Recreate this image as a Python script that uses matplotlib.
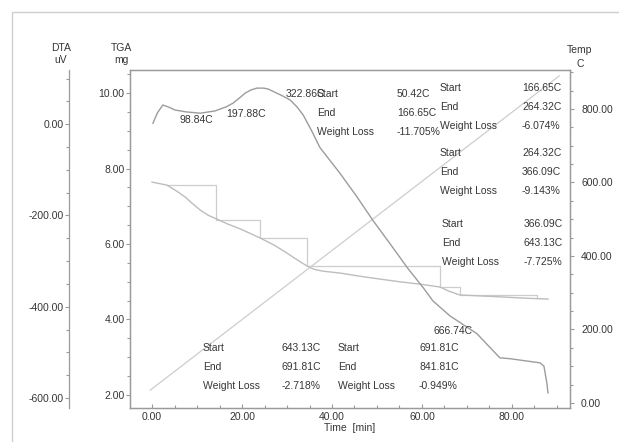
import matplotlib
matplotlib.use('Agg')
from matplotlib import pyplot as plt
from matplotlib.patches import Rectangle
from matplotlib.ticker import MultipleLocator, FormatStrFormatter

plt.rcParams['font.family'] = ['Liberation Sans', 'DejaVu Sans']

# DTA signal [uV] vs time [min]
dta_time = [0.2, 1.2, 2.4, 3.8, 5.1, 7.5, 10.7, 14.0, 16.5, 18.0, 19.5, 20.7, 22.0, 23.3,
            24.8, 25.8, 27.3, 29.0, 30.7, 32.2, 33.6, 35.5, 37.3, 41.8, 45.6, 49.1, 52.9,
            56.7, 60.4, 62.4, 66.2, 72.2, 77.3, 79.6, 86.2, 87.1, 87.8, 88.0]
dta_uv = [2, 25, 42, 37, 31, 27, 24, 29, 38, 46, 58, 68, 75, 79,
          79, 77, 70, 62, 53, 38, 20, -15, -51, -108, -160, -211, -262,
          -314, -360, -387, -420, -459, -512, -514, -523, -530, -570, -589]

# TGA mass [mg] vs time [min]
tga_time = [0.0, 3.3, 5.5, 7.3, 9.0, 10.7, 12.5, 14.4, 17.0, 19.6, 22.0, 24.0, 27.0, 29.6,
            32.0, 34.4, 36.0, 38.0, 41.8, 46.0, 50.7, 55.0, 60.0, 64.0, 66.0, 68.4, 72.0,
            77.3, 82.0, 88.0]
tga_mg = [7.64, 7.56, 7.40, 7.25, 7.07, 6.90, 6.76, 6.66, 6.52, 6.40, 6.27, 6.16, 5.98, 5.79,
          5.60, 5.42, 5.33, 5.28, 5.23, 5.15, 5.07, 5.00, 4.93, 4.86, 4.75, 4.65, 4.63,
          4.60, 4.57, 4.54]

# furnace temperature [C] vs time [min]
temp_time = [-0.4, 20.0, 40.0, 60.0, 80.0, 90.5]
temp_c = [35, 227, 415, 603, 791, 890]

# weight loss steps (time at each boundary, mass at each boundary)
step_time = [3.3, 14.2, 24.0, 34.4, 64.0, 68.4, 85.6]
step_mg = [7.56, 6.64, 6.16, 5.42, 4.86, 4.65, 4.57]

# peak labels
peak_labels = ['98.84C', '197.88C', '322.86C', '666.74C']
peak_pos = [(180, 120), (226, 114), (286, 94), (434, 331)]

# step result blocks: (label x, value x, top y, values)
row_names = ['Start', 'End', 'Weight Loss']
block_vals = [['50.42C', '166.65C', '-11.705%'],
              ['166.65C', '264.32C', '-6.074%'],
              ['264.32C', '366.09C', '-9.143%'],
              ['366.09C', '643.13C', '-7.725%'],
              ['643.13C', '691.81C', '-2.718%'],
              ['691.81C', '841.81C', '-0.949%']]
block_pos = [(317, 397, 94), (440, 522, 88), (440, 522, 153), (442, 524, 224),
             (203, 282, 348), (338, 419, 348)]

W, H = 619, 442
txt = '#363636'
axc = '#9a9a9a'
fs = 7.5

fig = plt.figure(figsize=(W / 100, H / 100), dpi=100)
fig.add_artist(Rectangle((12 / W, -0.05), 1.1, 1.05 - 12 / H, transform=fig.transFigure,
                         fill=False, ec='#cfcfcf', lw=1.0))

ax = fig.add_axes([130 / W, (H - 408) / H, 440 / W, 338 / H])
ax_t = ax.twinx()
ax_d = ax.twinx()

ax.set_xlim(-4.9, 92.9)
ax.set_ylim(1.655, 10.61)
ax_t.set_ylim(-13.6, 906)
ax_d.set_ylim(-622, 118.7)

# curves
ax_t.plot(temp_time, temp_c, color='#cdcdcd', lw=0.9)
sx, sy = [step_time[0]], [step_mg[0]]
for i in range(1, len(step_time)):
    sx += [step_time[i], step_time[i]]
    sy += [step_mg[i - 1], step_mg[i]]
ax.plot(sx, sy, color='#cdcdcd', lw=0.9)
ax.plot(tga_time, tga_mg, color='#bdbdbd', lw=1.0)
ax_d.plot(dta_time, dta_uv, color='#9c9c9c', lw=1.0)

# axes styling
for a in (ax, ax_t, ax_d):
    for s in a.spines.values():
        s.set_color(axc)
        s.set_linewidth(0.9)
    a.tick_params(which='both', colors=axc, labelcolor=txt, labelsize=fs, width=0.8)
    a.tick_params(which='major', length=3, pad=1)
    a.tick_params(which='minor', length=2)

ax.xaxis.set_major_locator(MultipleLocator(20))
ax.xaxis.set_minor_locator(MultipleLocator(5))
ax.xaxis.set_major_formatter(FormatStrFormatter('%.2f'))
ax.tick_params(axis='x', which='both', direction='in', pad=3)
ax.yaxis.set_major_locator(MultipleLocator(2))
ax.yaxis.set_minor_locator(MultipleLocator(0.5))
ax.yaxis.set_major_formatter(FormatStrFormatter('%.2f'))

ax_t.yaxis.set_major_locator(MultipleLocator(200))
ax_t.yaxis.set_minor_locator(MultipleLocator(50))
ax_t.yaxis.set_major_formatter(FormatStrFormatter('%.2f'))
ax_t.tick_params(axis='y', which='major', pad=5)

ax_d.spines['right'].set_visible(False)
ax_d.spines['top'].set_visible(False)
ax_d.spines['bottom'].set_visible(False)
ax_d.spines['left'].set_visible(True)
ax_d.spines['left'].set_position(('outward', 61 * 72 / 100))
ax_d.yaxis.set_label_position('left')
ax_d.yaxis.set_ticks_position('left')
ax_d.yaxis.set_major_locator(MultipleLocator(200))
ax_d.yaxis.set_minor_locator(MultipleLocator(50))
ax_d.yaxis.set_major_formatter(FormatStrFormatter('%.2f'))

# axis titles
fig.text(61 / W, 1 - 54 / H, 'DTA\nuV', ha='center', va='center', fontsize=fs, color=txt, linespacing=1.2)
fig.text(121 / W, 1 - 54 / H, 'TGA\nmg', ha='center', va='center', fontsize=fs, color=txt, linespacing=1.2)
fig.text(580 / W, 1 - 57 / H, 'Temp\nC', ha='center', va='center', fontsize=fs, color=txt, linespacing=1.4)
fig.text(350 / W, 1 - 428 / H, 'Time  [min]', ha='center', va='center', fontsize=fs, color=txt)

# annotations
for lab, (px, py) in zip(peak_labels, peak_pos):
    fig.text(px / W, 1 - py / H, lab, ha='left', va='center', fontsize=fs, color=txt)

for vals, (lx, vx, ty) in zip(block_vals, block_pos):
    for k in range(3):
        py = ty + k * 19
        fig.text(lx / W, 1 - py / H, row_names[k], ha='left', va='center', fontsize=fs, color=txt)
        fig.text(vx / W, 1 - py / H, vals[k], ha='left', va='center', fontsize=fs, color=txt)

fig.savefig('out.png', dpi=100)
